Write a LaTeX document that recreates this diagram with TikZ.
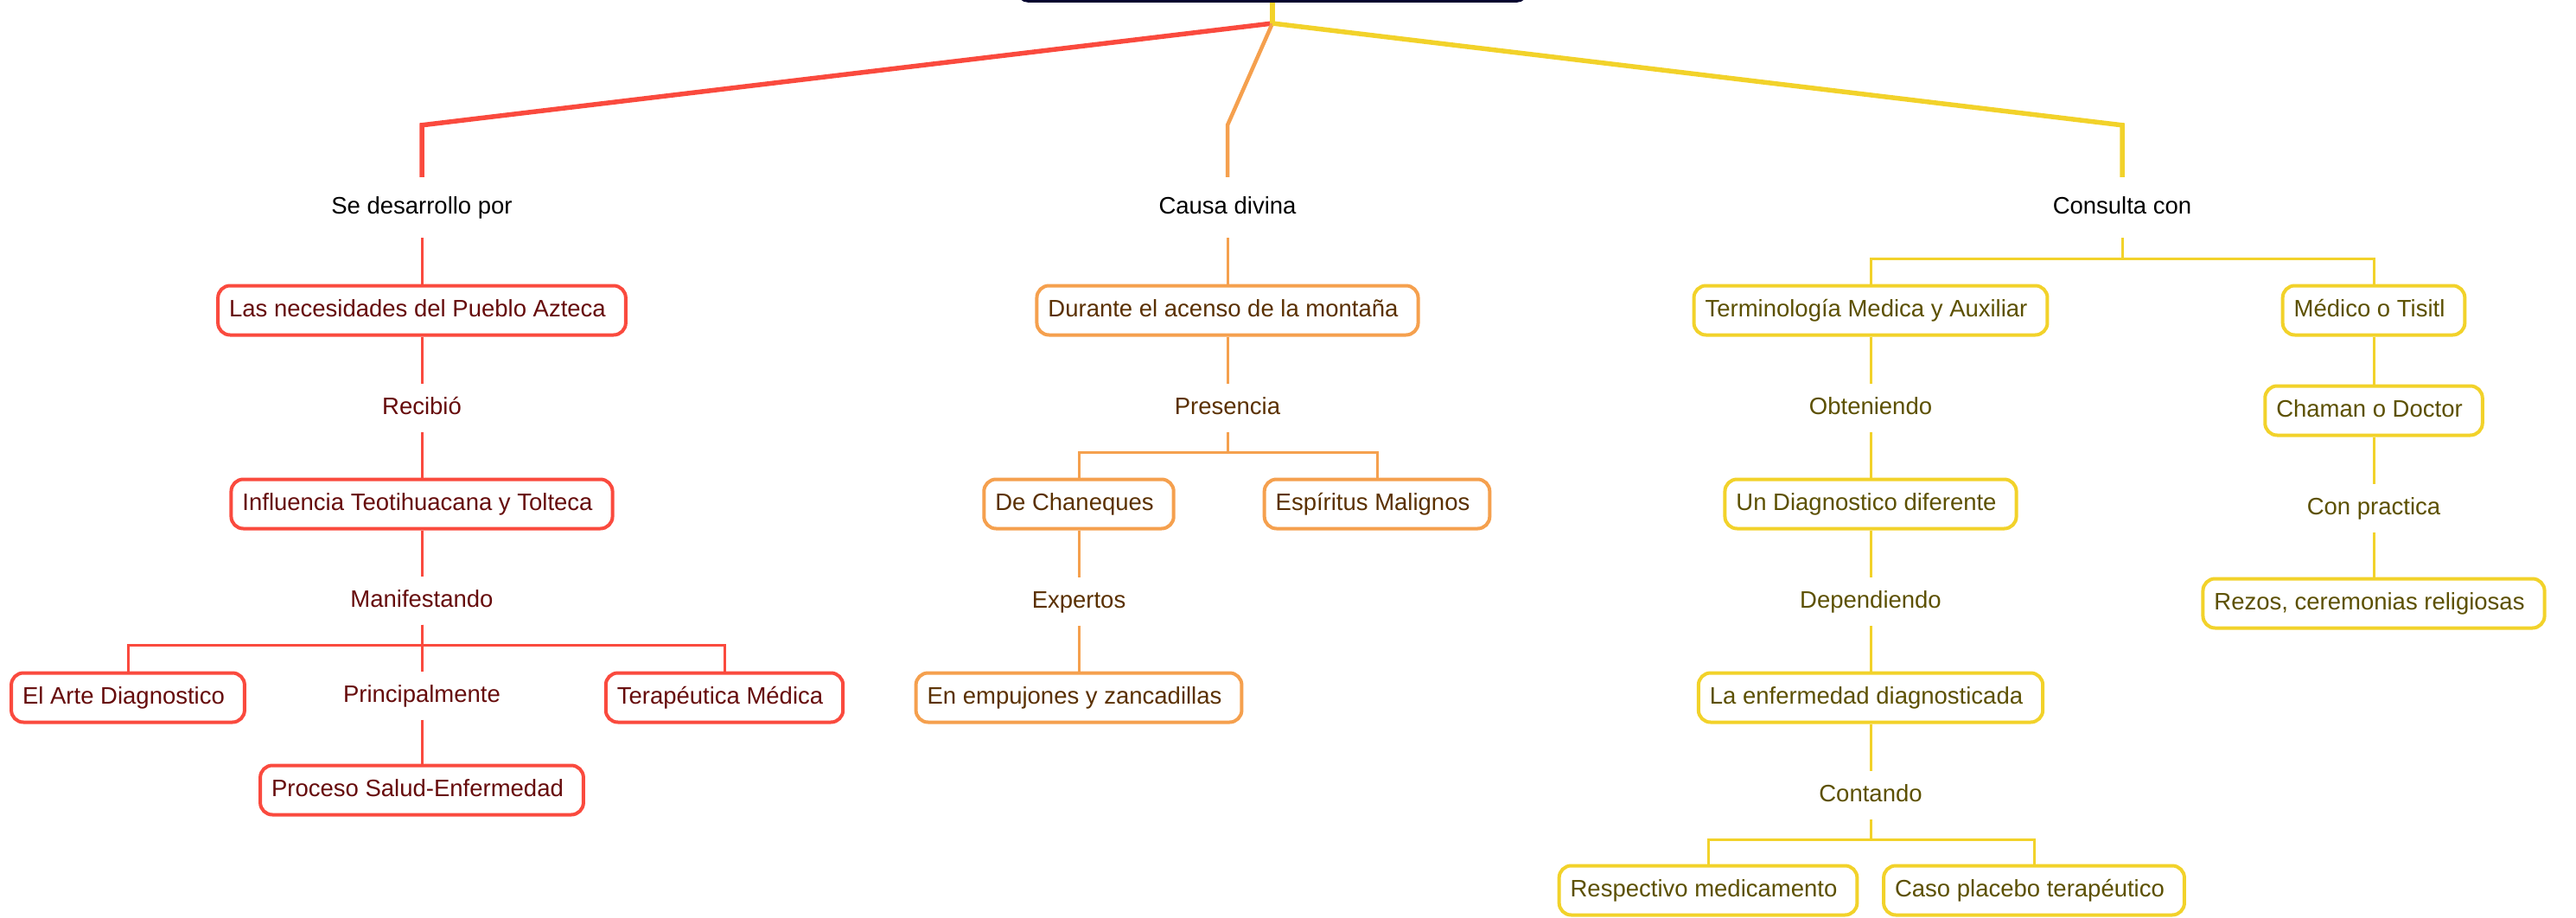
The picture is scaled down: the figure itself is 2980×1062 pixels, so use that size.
\documentclass[tikz,border=0pt]{standalone}
\usepackage{fontspec}
\setmainfont{Liberation Sans}
\usetikzlibrary{positioning}
\definecolor{rojo}{HTML}{FA4A3E}
\definecolor{rojotxt}{HTML}{660B0B}
\definecolor{naranja}{HTML}{F5A04E}
\definecolor{naranjatxt}{HTML}{5A3000}
\definecolor{amarillo}{HTML}{F2D22A}
\definecolor{amarillotxt}{HTML}{5C5000}
\definecolor{raiz}{HTML}{02022E}
\tikzset{
    every node/.style={font=\fontsize{27.5}{33}\selectfont, text height=20pt, text depth=6pt}, % letra de todos los nodos
    box/.style={draw, fill=white, rounded corners=14pt, line width=4pt, minimum height=57pt, inner xsep=13pt, execute at end node=\hspace{10pt}}, % cajas con borde
    tag/.style={minimum height=55pt}, % texto suelto sobre la linea
    toptag/.style={minimum height=70pt, text=black}, % primer nivel, en negro
    wire/.style={line width=3pt},
    trunk/.style={line width=5.5pt},
    ramaroja/.style={color=rojo, text=rojotxt},
    ramanaranja/.style={color=naranja, text=naranjatxt},
    ramaamarilla/.style={color=amarillo, text=amarillotxt},
    node distance=112pt, % distancia vertical entre filas
}
\begin{document}
\begin{tikzpicture}[x=1pt, y=-1pt]
    \useasboundingbox (0,0) rectangle (2980,1062);
    \node[fill=raiz, rounded corners=12pt, minimum width=590pt, minimum height=60pt, anchor=south] (raiz) at (1472,3) {};
    \coordinate (centro) at (1472,27);

    % rama roja
    \begin{scope}[ramaroja]
        \node[toptag] (desarrollo) at (488,240) {Se desarrollo por};
        \node[box, node distance=119pt, below of=desarrollo] (necesidades) {Las necesidades del Pueblo Azteca};
        \node[tag, node distance=113pt, below of=necesidades] (recibio) {Recibió};
        \node[box, node distance=111pt, below of=recibio] (influencia) {Influencia Teotihuacana y Tolteca};
        \node[tag, below of=influencia] (manifestando) {Manifestando};
        \node[tag, node distance=110pt, below of=manifestando] (principal) {Principalmente};
        \node[box, below of=manifestando, xshift=-340pt] (arte) {El Arte Diagnostico};
        \node[box, below of=manifestando, xshift=350pt] (terapeutica) {Terapéutica Médica};
        \node[box, node distance=109pt, below of=principal] (proceso) {Proceso Salud-Enfermedad};
        \draw[trunk] (centro) -- ([yshift=60pt]desarrollo.north) -- (desarrollo.north);
        \draw[wire] (desarrollo) -- (necesidades);
        \draw[wire] (necesidades) -- (recibio);
        \draw[wire] (recibio) -- (influencia);
        \draw[wire] (influencia) -- (manifestando);
        \draw[wire] (manifestando.south) -- ++(0,24) -| (arte.north);
        \draw[wire] (manifestando.south) -- ++(0,24) -| (terapeutica.north);
        \draw[wire] (manifestando) -- (principal);
        \draw[wire] (principal) -- (proceso);
    \end{scope}

    % rama naranja
    \begin{scope}[ramanaranja]
        \node[toptag] (divina) at (1420,240) {Causa divina};
        \node[box, node distance=119pt, below of=divina] (durante) {Durante el acenso de la montaña};
        \node[tag, node distance=113pt, below of=durante] (presencia) {Presencia};
        \node[box, node distance=111pt, below of=presencia, xshift=-172pt] (chaneques) {De Chaneques};
        \node[box, node distance=111pt, below of=presencia, xshift=173pt] (espiritus) {Espíritus Malignos};
        \node[tag, node distance=113pt, below of=chaneques] (expertos) {Expertos};
        \node[box, node distance=111pt, below of=expertos] (empujones) {En empujones y zancadillas};
        \draw[trunk, line width=4.5pt] (centro) -- ([yshift=60pt]divina.north) -- (divina.north);
        \draw[wire] (divina) -- (durante);
        \draw[wire] (durante) -- (presencia);
        \draw[wire] (presencia.south) -- ++(0,24) -| (chaneques.north);
        \draw[wire] (presencia.south) -- ++(0,24) -| (espiritus.north);
        \draw[wire] (chaneques) -- (expertos);
        \draw[wire] (expertos) -- (empujones);
    \end{scope}

    % rama amarilla
    \begin{scope}[ramaamarilla]
        \node[toptag] (consulta) at (2455,240) {Consulta con};
        \node[box, node distance=119pt, below of=consulta, xshift=-291pt] (terminologia) {Terminología Medica y Auxiliar};
        \node[box, node distance=119pt, below of=consulta, xshift=291pt] (medico) {Médico o Tisitl};
        \node[tag, node distance=113pt, below of=terminologia] (obteniendo) {Obteniendo};
        \node[box, node distance=111pt, below of=obteniendo] (diferente) {Un Diagnostico diferente};
        \node[tag, node distance=113pt, below of=diferente] (dependiendo) {Dependiendo};
        \node[box, node distance=111pt, below of=dependiendo] (enfermedad) {La enfermedad diagnosticada};
        \node[tag, node distance=113pt, below of=enfermedad] (contando) {Contando};
        \node[box, node distance=110pt, below of=contando, xshift=-188pt] (medicamento) {Respectivo medicamento};
        \node[box, node distance=110pt, below of=contando, xshift=189pt] (placebo) {Caso placebo terapéutico};
        \node[box, node distance=116pt, below of=medico] (chaman) {Chaman o Doctor};
        \node[tag, node distance=113pt, below of=chaman] (practica) {Con practica};
        \node[box, node distance=110pt, below of=practica] (rezos) {Rezos, ceremonias religiosas};
        \draw[trunk] (raiz.south) -- (centro);
        \draw[trunk] (centro) -- ([yshift=60pt]consulta.north) -- (consulta.north);
        \draw[wire] (consulta.south) -- ++(0,24) -| (terminologia.north);
        \draw[wire] (consulta.south) -- ++(0,24) -| (medico.north);
        \draw[wire] (terminologia) -- (obteniendo);
        \draw[wire] (obteniendo) -- (diferente);
        \draw[wire] (diferente) -- (dependiendo);
        \draw[wire] (dependiendo) -- (enfermedad);
        \draw[wire] (enfermedad) -- (contando);
        \draw[wire] (contando.south) -- ++(0,24) -| (medicamento.north);
        \draw[wire] (contando.south) -- ++(0,24) -| (placebo.north);
        \draw[wire] (medico) -- (chaman);
        \draw[wire] (chaman) -- (practica);
        \draw[wire] (practica) -- (rezos);
    \end{scope}
\end{tikzpicture}
\end{document}
